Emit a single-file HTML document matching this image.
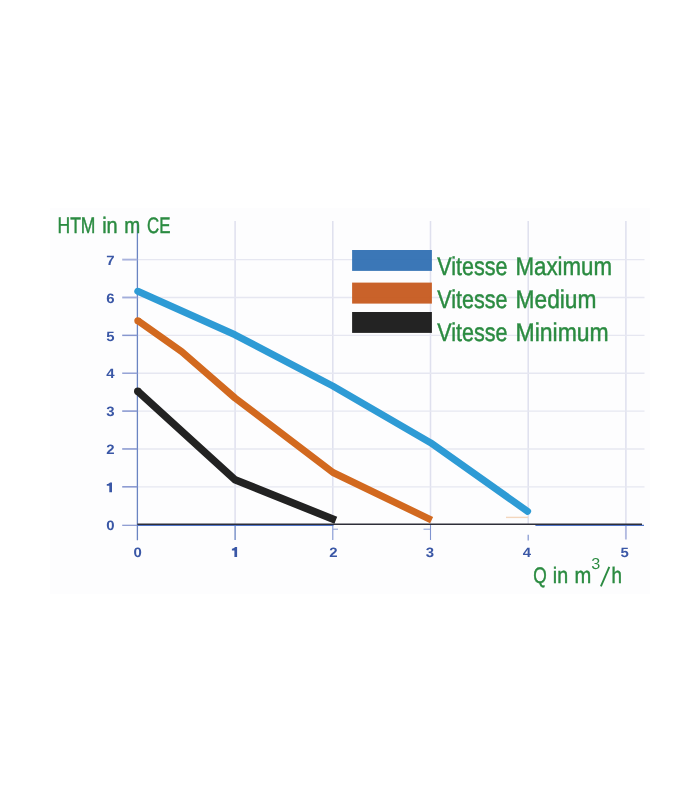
<!DOCTYPE html>
<html>
<head>
<meta charset="utf-8">
<title>Pump curve</title>
<style>
  html, body { margin: 0; padding: 0; background: #ffffff; }
  body { width: 700px; height: 800px; overflow: hidden; font-family: "Liberation Sans", sans-serif; }
  svg { display: block; }
  .g  { font-family: "Liberation Sans", sans-serif; fill: #2b8b41; stroke: #2b8b41; stroke-width: 0.45; text-rendering: geometricPrecision; }
  .t  { font-family: "Liberation Sans", sans-serif; font-weight: bold; font-size: 13.6px; fill: #3a57a6; text-rendering: geometricPrecision; }
</style>
</head>
<body>
<svg width="700" height="800" viewBox="0 0 700 800" style="will-change: transform; opacity: 0.999;">
  <!-- chart background -->
  <rect x="50" y="208" width="600" height="386" fill="#fdfdfe"/>

  <!-- grid -->
  <g fill="none">
    <line x1="235.1" y1="221" x2="235.1" y2="524" stroke="#dfe0ee" stroke-width="1.5"/>
    <line x1="332.8" y1="221" x2="332.8" y2="524" stroke="#dfe0ee" stroke-width="1.5"/>
    <line x1="430.5" y1="221" x2="430.5" y2="524" stroke="#dfe0ee" stroke-width="1.5"/>
    <line x1="528.2" y1="221" x2="528.2" y2="524" stroke="#dfe0ee" stroke-width="1.5"/>
    <line x1="625.9" y1="221" x2="625.9" y2="524" stroke="#dfe0ee" stroke-width="1.5"/>
    <line x1="137.4" y1="486.83" x2="644.5" y2="486.83" stroke="#e6e7f1" stroke-width="1.4"/>
    <line x1="137.4" y1="448.96" x2="644.5" y2="448.96" stroke="#e6e7f1" stroke-width="1.4"/>
    <line x1="137.4" y1="411.09" x2="644.5" y2="411.09" stroke="#e6e7f1" stroke-width="1.4"/>
    <line x1="137.4" y1="373.22" x2="644.5" y2="373.22" stroke="#e6e7f1" stroke-width="1.4"/>
    <line x1="137.4" y1="335.35" x2="644.5" y2="335.35" stroke="#e6e7f1" stroke-width="1.4"/>
    <line x1="137.4" y1="297.48" x2="644.5" y2="297.48" stroke="#e6e7f1" stroke-width="1.4"/>
    <line x1="137.4" y1="259.61" x2="644.5" y2="259.61" stroke="#e6e7f1" stroke-width="1.4"/>
  </g>

  <!-- axes and ticks -->
  <g stroke="#6a84c2" stroke-width="1.3" fill="none">
    <line x1="137.4" y1="221" x2="137.4" y2="540.3"/>
    <line x1="122.2" y1="525.3" x2="137.4" y2="525.3" stroke="#8494ce" stroke-width="1.2"/>
    <line x1="122.2" y1="486.83" x2="137.4" y2="486.83" stroke="#8494ce" stroke-width="1.5"/>
    <line x1="122.2" y1="448.96" x2="137.4" y2="448.96" stroke="#8494ce" stroke-width="1.5"/>
    <line x1="122.2" y1="411.09" x2="137.4" y2="411.09" stroke="#8494ce" stroke-width="1.5"/>
    <line x1="122.2" y1="373.22" x2="137.4" y2="373.22" stroke="#94a2d5" stroke-width="1.5"/>
    <line x1="122.2" y1="335.35" x2="137.4" y2="335.35" stroke="#8797cf" stroke-width="1.5"/>
    <line x1="122.2" y1="297.48" x2="137.4" y2="297.48" stroke="#a2addb" stroke-width="1.9"/>
    <line x1="122.2" y1="259.61" x2="137.4" y2="259.61" stroke="#a9b3dd" stroke-width="1.9"/>
    <line x1="235.1" y1="524.5" x2="235.1" y2="540"/>
    <line x1="332.8" y1="525" x2="332.8" y2="540" stroke="#7f93d0" stroke-width="1.1"/>
    <line x1="430.5" y1="525" x2="430.5" y2="540" stroke="#7f93d0" stroke-width="1.1"/>
    <line x1="528.2" y1="534.7" x2="528.2" y2="540.4" stroke="#7f93d0" stroke-width="1.2"/>
    <line x1="625.9" y1="524.5" x2="625.9" y2="539.5" stroke="#b3bbe1" stroke-width="1.9"/>
  </g>
  <!-- x axis -->
  <line x1="137.4" y1="525.4" x2="333.5" y2="525.4" stroke="#4f74c8" stroke-width="1.2"/>
  <line x1="535.4" y1="525.4" x2="644" y2="525.4" stroke="#4f74c8" stroke-width="1.2"/>
  <line x1="137.4" y1="524.3" x2="642" y2="524.3" stroke="#2e2e38" stroke-width="1.4"/>
  <line x1="333" y1="529.2" x2="338" y2="529.2" stroke="#8da0d6" stroke-width="1"/>
  <line x1="423.5" y1="529.2" x2="430" y2="529.2" stroke="#8da0d6" stroke-width="1"/>
  <line x1="506" y1="517.4" x2="528" y2="517.4" stroke="#f3d6bd" stroke-width="1.4"/>

  <!-- curves -->
  <polyline points="137.8,291.3 235,334.8 332.8,386 430.5,442.7 527.6,511.3" fill="none" stroke="#2e9bd5" stroke-width="7" stroke-linecap="round" stroke-linejoin="round"/>
  <polyline points="137.8,320.7 181.7,351.6 235,398 333,472.5 431.6,520.1" fill="none" stroke="#d2691f" stroke-width="7" stroke-linecap="butt" stroke-linejoin="round"/>
  <circle cx="137.8" cy="320.7" r="3.5" fill="#d2691f"/>
  <polyline points="137.8,391.3 235,479.7 335.8,520.3" fill="none" stroke="#222222" stroke-width="7.5" stroke-linecap="butt" stroke-linejoin="round"/>
  <circle cx="137.8" cy="391.3" r="3.75" fill="#222222"/>

  <!-- legend -->
  <rect x="352.1" y="250" width="79.8" height="20.9" fill="#2c6db2" fill-opacity="0.93"/>
  <rect x="352.1" y="282.6" width="79.8" height="21" fill="#c5561a" fill-opacity="0.93"/>
  <rect x="352.1" y="312" width="79.8" height="20.9" fill="#121212" fill-opacity="0.93"/>
  <g class="g">
    <text transform="translate(437.2 275.4) scale(0.8419 1)" font-size="25.6">Vitesse</text>
    <text transform="translate(515.5 275.4) scale(0.8708 1)" font-size="25.6">Maximum</text>
    <text transform="translate(437.2 308.3) scale(0.8419 1)" font-size="25.6">Vitesse</text>
    <text transform="translate(515.5 308.3) scale(0.8896 1)" font-size="25.6">Medium</text>
    <text transform="translate(437.2 341.2) scale(0.8419 1)" font-size="25.6">Vitesse</text>
    <text transform="translate(515.5 341.2) scale(0.8985 1)" font-size="25.6">Minimum</text>

    <!-- axis titles -->
    <text transform="translate(57.5 233.4) scale(0.7830 1)" font-size="22.4">HTM</text>
    <text transform="translate(102.2 233.4) scale(0.8893 1)" font-size="22.4">in</text>
    <text transform="translate(124.2 233.4) scale(0.8570 1)" font-size="22.4">m</text>
    <text transform="translate(147 233.4) scale(0.7549 1)" font-size="22.4">CE</text>

    <text transform="translate(533.3 582.5) scale(0.7676 1)" font-size="22.6">Q</text>
    <text transform="translate(552.8 582.5) scale(0.8701 1)" font-size="22.6">in</text>
    <text transform="translate(574.6 582.5) scale(0.8919 1)" font-size="22.6">m</text>
    <text stroke-width="0" transform="translate(591.2 568.9) scale(1.0243 1)" font-size="15.8">3</text>
    <line x1="600.9" y1="586.4" x2="609.3" y2="566.9" stroke-width="1.9"/>
    <text transform="translate(611.6 582.5) scale(0.8344 1)" font-size="22.6">h</text>
  </g>

  <!-- tick labels -->
  <g class="t" text-anchor="middle">
    <text transform="translate(110.4 264.8) scale(1.1 1)">7</text>
    <text transform="translate(110.4 302.7) scale(1.1 1)">6</text>
    <text transform="translate(110.4 340.6) scale(1.1 1)">5</text>
    <text transform="translate(110.4 378.4) scale(1.1 1)">4</text>
    <text transform="translate(110.4 416.3) scale(1.1 1)">3</text>
    <text transform="translate(110.4 454.2) scale(1.1 1)">2</text>
    <path transform="translate(106.8 492.2)" d="M0,-6.5 L0,-8.2 C1.6,-8.3 2.7,-8.9 3.2,-9.8 L5.2,-9.8 L5.2,0 L2.5,0 L2.5,-6.5 Z"/>
    <text transform="translate(110.4 529.9) scale(1.1 1)">0</text>
    <text transform="translate(137.7 556.8) scale(1.1 1)">0</text>
    <path transform="translate(231.9 556.9)" d="M0,-6.5 L0,-8.2 C1.6,-8.3 2.7,-8.9 3.2,-9.8 L5.2,-9.8 L5.2,0 L2.5,0 L2.5,-6.5 Z"/>
    <text transform="translate(333.3 556.8) scale(1.1 1)">2</text>
    <text transform="translate(429.9 556.8) scale(1.1 1)">3</text>
    <text transform="translate(526.8 556.8) scale(1.1 1)">4</text>
    <text transform="translate(624.7 556.8) scale(1.1 1)">5</text>
  </g>
</svg>
</body>
</html>
